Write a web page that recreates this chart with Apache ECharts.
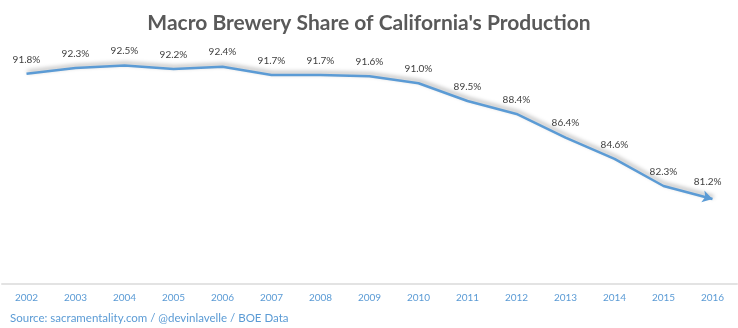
<!DOCTYPE html>
<html><head><meta charset="utf-8">
<script src="https://cdn.jsdelivr.net/npm/echarts@6/dist/echarts.min.js"></script>
<style>html,body{margin:0;padding:0;background:#fff}#c{width:738px;height:328px}</style>
</head><body><div id="c"></div>
<script>
var years = ['2002','2003','2004','2005','2006','2007','2008','2009','2010','2011','2012','2013','2014','2015','2016'];
var share = [91.8, 92.3, 92.5, 92.2, 92.4, 91.7, 91.7, 91.6, 91.0, 89.5, 88.4, 86.4, 84.6, 82.3, 81.2];
var titleText = "Macro Brewery Share of California's Production";
var sourceText = "Source: sacramentality.com / @devinlavelle / BOE Data";

var chart = echarts.init(document.getElementById('c'));
var data = share.map(function(v, i){
  if (i === share.length - 1) {
    return {value: v, symbol: 'arrow', symbolSize: [9, 10], symbolRotate: -105,
            itemStyle: {color: '#5B9BD5'}, label: {distance: 4}};
  }
  return {value: v};
});
chart.setOption({
  animation: false,
  title: {
    text: titleText, left: 'center', top: 8,
    textStyle: {fontFamily: 'Lato', fontWeight: 'bold', fontSize: 21, color: '#595959'}
  },
  graphic: [{
    type: 'text', left: 10, top: 312,
    style: {text: sourceText, fontFamily: 'Lato', fontSize: 11.5, fill: '#5B9BD5'}
  }],
  grid: {left: 2, right: 1, top: 36, bottom: 44, containLabel: false},
  xAxis: {
    type: 'category', data: years, boundaryGap: true,
    axisLine: {lineStyle: {color: '#E3E3E3', width: 2}},
    axisTick: {show: false},
    axisLabel: {color: '#5B9BD5', fontFamily: 'Lato', fontSize: 10, margin: 9}
  },
  yAxis: {
    type: 'value', min: 74, max: 95, show: false, splitLine: {show: false}
  },
  series: [{
    type: 'line', data: data, symbol: 'circle', symbolSize: 1, showSymbol: true,
    itemStyle: {color: 'rgba(0,0,0,0)', borderWidth: 0},
    lineStyle: {color: '#5B9BD5', width: 2.5, shadowColor: 'rgba(0,0,0,0.35)', shadowBlur: 4, shadowOffsetX: 1, shadowOffsetY: -2},
    labelLayout: {hideOverlap: false},
    label: {show: true, position: 'top', distance: 9, color: '#404040', fontFamily: 'Lato', fontSize: 10,
      formatter: function(p){ return p.value.toFixed(1) + '%'; }}
  }]
});
</script></body></html>
